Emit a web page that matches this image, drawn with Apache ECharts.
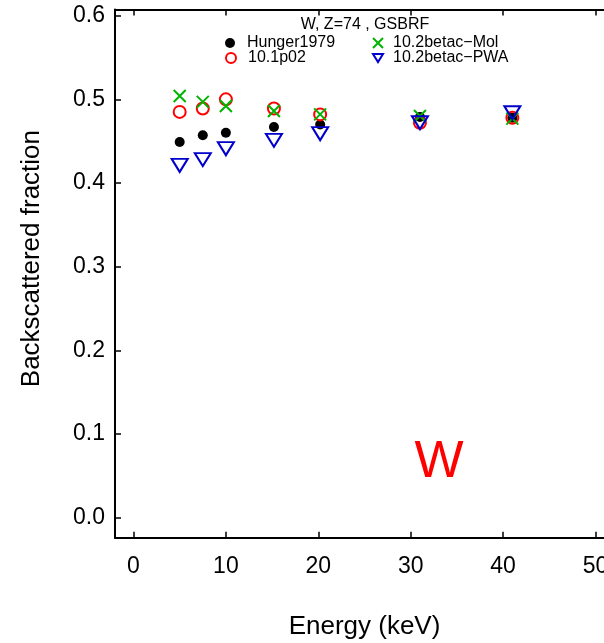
<!DOCTYPE html>
<html>
<head>
<meta charset="utf-8">
<script src="https://cdn.jsdelivr.net/npm/echarts@6/dist/echarts.min.js"></script>
<style>html,body{margin:0;padding:0;background:#fff;}#c{width:604px;height:643px;}</style>
</head>
<body>
<div id="c"></div>
<script>
var energy = [5, 7.5, 10, 15.2, 20.2, 31, 41];
var hunger1979 = [0.449, 0.457, 0.460, 0.467, 0.470, 0.479, 0.478];
var p1002 = [0.485, 0.489, 0.500, 0.489, 0.482, 0.472, 0.478];
var betacMol = [0.504, 0.497, 0.492, 0.486, 0.482, 0.480, 0.477];
var betacPWA = [0.421, 0.428, 0.441, 0.451, 0.459, 0.472, 0.484];
var seriesNames = ['Hunger1979', '10.1p02', '10.2betac\u2212Mol', '10.2betac\u2212PWA'];
var plotTitle = 'W, Z=74 , GSBRF';
var elementLabel = 'W';

function pairs(ys) { return energy.map(function (x, i) { return [x, ys[i]]; }); }

var FONT = 'Liberation Sans';
var RED = '#ff0000', GREEN = '#00b400', BLUE = '#0000cc';
var crossPath = 'path://M0,0 L10,10 M10,0 L0,10';
var triPath = 'path://M0,0 L10,0 L5,8 Z';

var chart = echarts.init(document.getElementById('c'), null, {renderer: 'canvas'});

function legendAt(name, left, top, style, gap) {
  return {
    data: [name], left: left, top: top, padding: 0, orient: 'horizontal',
    itemWidth: 10, itemHeight: 10, selectedMode: false,
    itemStyle: style,
    textStyle: {fontFamily: FONT, fontSize: 16, color: '#000', padding: [0, 0, 0, gap]}
  };
}

var axisCommon = {
  axisLine: {show: true, onZero: false, lineStyle: {color: '#000', width: 2}},
  splitLine: {show: false}
};

chart.setOption({
  animation: false,
  backgroundColor: '#fff',
  grid: {left: 115, right: -10, top: 9.5, bottom: 105.3, containLabel: false, outerBoundsMode: 'none'},
  legend: [
    legendAt(seriesNames[0], 225, 35, {color: '#000', borderWidth: 0}, 7),
    legendAt(seriesNames[1], 225, 50, {color: 'rgba(0,0,0,0)', borderColor: RED, borderWidth: 2}, 7),
    legendAt(seriesNames[2], 372, 35, {color: 'rgba(0,0,0,0)', borderColor: GREEN, borderWidth: 2}, 5),
    legendAt(seriesNames[3], 372, 50, {color: 'rgba(0,0,0,0)', borderColor: BLUE, borderWidth: 2}, 5)
  ],
  xAxis: [
    Object.assign({
      type: 'value', position: 'bottom', min: -2, max: 52, splitNumber: 5,
      name: 'Energy (keV)', nameLocation: 'middle', nameGap: 76,
      nameTextStyle: {fontFamily: FONT, fontSize: 26, color: '#000'},
      axisTick: {show: true, inside: true, length: 6, lineStyle: {color: '#000', width: 1.5}},
      axisLabel: {show: true, fontFamily: FONT, fontSize: 23, color: '#000', margin: 17,
        showMinLabel: false, showMaxLabel: false}
    }, axisCommon),
    Object.assign({
      type: 'value', position: 'top', min: -2, max: 52, splitNumber: 5,
      axisTick: {show: true, inside: true, length: 6, lineStyle: {color: '#000', width: 1.5}},
      axisLabel: {show: false}
    }, axisCommon)
  ],
  yAxis: [
    Object.assign({
      type: 'value', min: -0.024, max: 0.6074, splitNumber: 6,
      name: 'Backscattered fraction', nameLocation: 'middle', nameGap: 70, nameRotate: 90,
      nameTextStyle: {fontFamily: FONT, fontSize: 26, color: '#000', padding: [0, 0, 0, 30]},
      axisTick: {show: true, inside: true, length: 6, lineStyle: {color: '#000', width: 1.5}},
      axisLabel: {show: true, fontFamily: FONT, fontSize: 23, color: '#000', margin: 10,
        showMinLabel: false, showMaxLabel: false,
        formatter: function (v) { return v.toFixed(1); }}
    }, axisCommon)
  ],
  graphic: [
    {type: 'text', x: 365, y: 25, silent: true, z: 100,
      style: {text: plotTitle, fontFamily: FONT, fontSize: 16, fill: '#000', textAlign: 'center', textVerticalAlign: 'middle'}},
    {type: 'text', x: 439, y: 463, silent: true,
      style: {text: elementLabel, fontFamily: FONT, fontSize: 52, fill: RED, textAlign: 'center', textVerticalAlign: 'middle'}}
  ],
  series: [
    {name: seriesNames[0], type: 'scatter', data: pairs(hunger1979), symbol: 'circle', symbolSize: 10,
      itemStyle: {color: '#000', opacity: 1}},
    {name: seriesNames[1], type: 'scatter', data: pairs(p1002), symbol: 'circle', symbolSize: 12,
      itemStyle: {color: 'rgba(0,0,0,0)', borderColor: RED, borderWidth: 2, opacity: 1}},
    {name: seriesNames[2], type: 'scatter', data: pairs(betacMol), symbol: crossPath, symbolSize: 12,
      itemStyle: {color: 'rgba(0,0,0,0)', borderColor: GREEN, borderWidth: 2, opacity: 1}},
    {name: seriesNames[3], type: 'scatter', data: pairs(betacPWA), symbol: triPath, symbolSize: [16, 13],
      itemStyle: {color: 'rgba(0,0,0,0)', borderColor: BLUE, borderWidth: 2, opacity: 1}}
  ]
});
</script>
</body>
</html>
